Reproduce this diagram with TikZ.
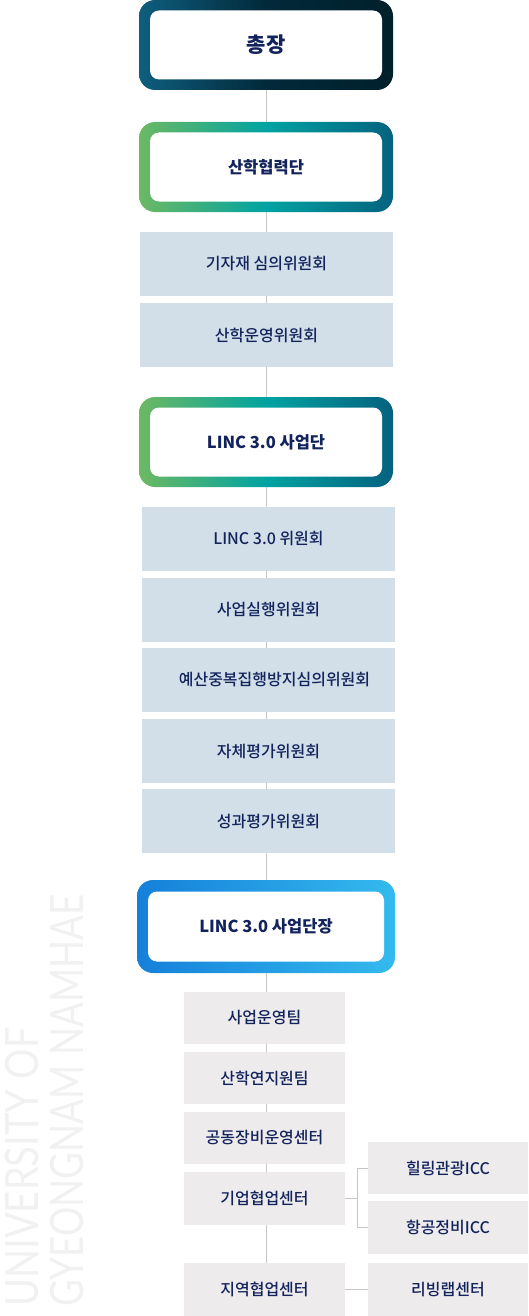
\documentclass[tikz,border=0pt]{standalone}
\usepackage{fontspec}
\setmainfont{Noto Sans CJK KR}
\newfontfamily\medfont{Noto Sans CJK KR Medium}
\newfontfamily\wmfont{Lato}
\definecolor{navy}{HTML}{13235C}
\definecolor{bluegray}{HTML}{D2DFE9}
\definecolor{lgray}{HTML}{EDEBEC}
\definecolor{linegray}{HTML}{C6C6C6}
\definecolor{wmcol}{HTML}{F1F1F1}
\definecolor{dkA}{HTML}{0F5E7E}
\definecolor{dkB}{HTML}{02293A}
\definecolor{dkC}{HTML}{00202B}
\definecolor{grA}{HTML}{6CB963}
\definecolor{grB}{HTML}{00A3A2}
\definecolor{grC}{HTML}{05627F}
\definecolor{blA}{HTML}{1580DA}
\definecolor{blC}{HTML}{34BAEE}
\tikzset{
  outerbox/.style={minimum width=254pt, minimum height=90pt, inner sep=0pt, rounded corners=16pt, draw=none},
  innerbox/.style={fill=white, minimum width=232pt, minimum height=69pt, inner sep=0pt, rounded corners=9pt, text=navy, font=\bfseries\fontsize{16.5}{19}\selectfont},
  graybox/.style={fill=bluegray, minimum width=253pt, minimum height=64pt, inner sep=0pt, text=navy, font=\medfont\fontsize{16}{18}\selectfont},
  lowbox/.style={fill=lgray, minimum width=161pt, minimum height=52.5pt, inner sep=0pt, text=navy, font=\medfont\fontsize{16}{18}\selectfont},
  rightbox/.style={lowbox, minimum width=160pt},
  conn/.style={draw=linegray, line width=1pt},
  wmtext/.style={text=wmcol, inner sep=0pt, font=\wmfont\fontsize{46}{50}\selectfont}
}
\begin{document}
\begin{tikzpicture}[x=1pt, y=-1pt]
\useasboundingbox (0,0) rectangle (528,1316);
% watermark
\node[wmtext, rotate=90, anchor=base west] (wm1) at (38,1307) {\scalebox{0.83}[1]{UNIVERSITY OF}};
\node[wmtext, rotate=90, anchor=base west] (wm2) at (83,1307) {\scalebox{0.80}[1]{GYEONGNAM NAMHAE}};
\coordinate (spine) at (266.5,0);
% top boxes
\node[outerbox, left color=dkA, right color=dkC, middle color=dkB] (t1) at (266,45) {};
\node[innerbox, font=\bfseries\fontsize{21}{25}\selectfont] (t1i) at (t1) {총장};
\node[outerbox, left color=grA, right color=grC, middle color=grB] (t2) at (266,167) {};
\node[innerbox] (t2i) at (t2) {산학협력단};
\node[graybox] (g1) at (266.5,264) {기자재 심의위원회};
\node[graybox] (g2) at (266.5,335) {산학운영위원회};
\node[outerbox, left color=grA, right color=grC, middle color=grB] (t3) at (266,442) {};
\node[innerbox] (t3i) at (t3) {LINC 3.0 사업단};
\node[graybox] (c1) at (268.5,539) {LINC 3.0 위원회};
\node[graybox] (c2) at (268.5,610) {사업실행위원회};
\node[graybox] (c3) at (268.5,680) {\hspace*{12pt}예산중복집행방지심의위원회};
\node[graybox] (c4) at (268.5,751) {자체평가위원회};
\node[graybox] (c5) at (268.5,821) {성과평가위원회};
\node[outerbox, minimum width=258pt, minimum height=93pt, left color=blA, right color=blC] (t4) at (266,926.5) {};
\node[innerbox, minimum width=236pt, minimum height=70pt] (t4i) at (t4) {LINC 3.0 사업단장};
\node[lowbox] (l1) at (264.5,1018) {사업운영팀};
\node[lowbox] (l2) at (264.5,1078) {산학연지원팀};
\node[lowbox] (l3) at (264.5,1138) {공동장비운영센터};
\node[lowbox] (l4) at (264.5,1198.5) {기업협업센터};
\node[lowbox] (l5) at (264.5,1289.5) {지역협업센터};
\node[rightbox] (r1) at (448,1168) {힐링관광ICC};
\node[rightbox] (r2) at (448,1227.5) {항공정비ICC};
\node[rightbox] (r3) at (448,1289.5) {리빙랩센터};
% spine connectors
\foreach \a/\b in {t1/t2, t2/g1, g1/g2, g2/t3, t3/c1, c1/c2, c2/c3, c3/c4, c4/c5, c5/t4, t4/l1, l1/l2, l2/l3, l3/l4, l4/l5}
  \draw[conn] (spine |- \a.south) -- (spine |- \b.north);
% branches
\draw[conn] (l4.east) -- ++(12,0) coordinate (br);
\draw[conn] (r1.west) -| (br) |- (r2.west);
\draw[conn] (l5.east) -- (r3.west);
\end{tikzpicture}
\end{document}
